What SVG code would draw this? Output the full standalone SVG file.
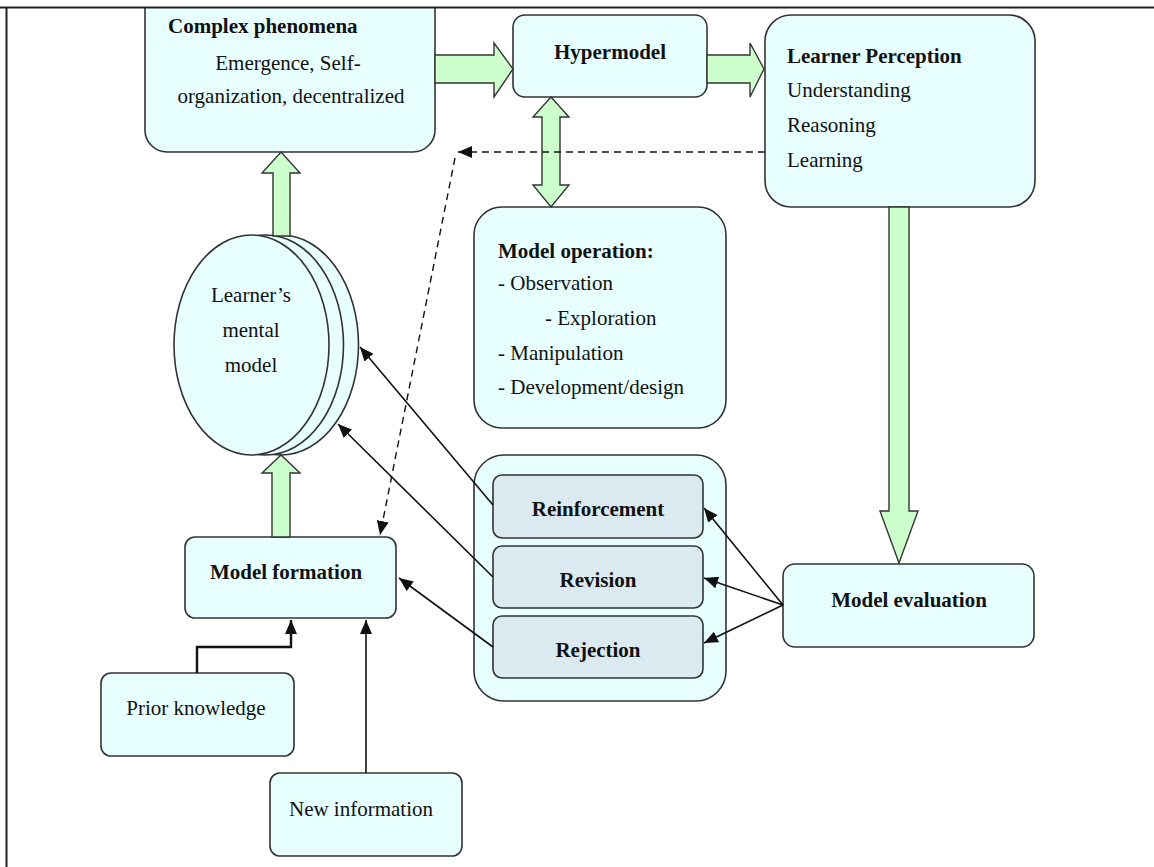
<svg xmlns="http://www.w3.org/2000/svg" width="1154" height="867" viewBox="0 0 1154 867">
<defs>
<style>
.box{fill:#e8ffff;stroke:#333;stroke-width:1.6}
.inner{fill:#dbeaf0;stroke:#333;stroke-width:1.6}
.garrow{fill:#ccffcc;stroke:#333;stroke-width:1.4;stroke-linejoin:miter}
.t{font-family:"Liberation Serif","Times New Roman",serif;font-size:21px;fill:#111}
.b{font-weight:bold}
.m{text-anchor:middle}
.ln{fill:none;stroke:#111;stroke-width:1.6}
.dash{fill:none;stroke:#111;stroke-width:1.4;stroke-dasharray:7 5}
</style>
<marker id="ahL" viewBox="0 0 14 12" refX="14" refY="6" markerWidth="14" markerHeight="12" markerUnits="userSpaceOnUse" orient="auto">
<path d="M0,0 L14,6 L0,12 z" fill="#111"/>
</marker>
</defs>
<rect width="1154" height="867" fill="#fff"/>

<g id="complex-phenomena">
<rect class="box" x="145" y="-20" width="290" height="172" rx="22"/>
<text class="t b" x="168" y="33">Complex phenomena</text>
<text class="t m" x="288" y="70">Emergence, Self-</text>
<text class="t m" x="291" y="103">organization, decentralized</text>
</g>

<g id="hypermodel">
<rect class="box" x="513" y="15" width="194" height="82" rx="12"/>
<text class="t b m" x="610" y="59">Hypermodel</text>
</g>

<g id="learner-perception">
<rect class="box" x="765" y="15" width="270" height="192" rx="26"/>
<text class="t b" x="787" y="63">Learner Perception</text>
<text class="t" x="787" y="97">Understanding</text>
<text class="t" x="787" y="132">Reasoning</text>
<text class="t" x="787" y="167">Learning</text>
</g>

<g id="model-operation">
<rect class="box" x="474" y="207" width="252" height="221" rx="28"/>
<text class="t b" x="498" y="258">Model operation:</text>
<text class="t" x="498" y="290">- Observation</text>
<text class="t" x="545" y="325">- Exploration</text>
<text class="t" x="498" y="360">- Manipulation</text>
<text class="t" x="498" y="394">- Development/design</text>
</g>

<g id="mental-model">
<ellipse class="box" cx="281" cy="345" rx="77.5" ry="110"/>
<ellipse class="box" cx="266" cy="345" rx="77.5" ry="110"/>
<ellipse class="box" cx="251.5" cy="345" rx="77.5" ry="110"/>
<text class="t m" x="251" y="302">Learner’s</text>
<text class="t m" x="251" y="337">mental</text>
<text class="t m" x="251" y="372">model</text>
</g>

<g id="model-formation">
<rect class="box" x="185" y="537" width="211" height="81" rx="10"/>
<text class="t b m" x="286" y="579">Model formation</text>
</g>

<g id="prior-knowledge">
<rect class="box" x="101" y="673" width="193" height="83" rx="10"/>
<text class="t m" x="196" y="715">Prior knowledge</text>
</g>

<g id="new-information">
<rect class="box" x="270" y="773" width="192" height="83" rx="10"/>
<text class="t m" x="361" y="816">New information</text>
</g>

<g id="evaluation-outcomes">
<rect class="box" x="474" y="455" width="252" height="246" rx="30"/>
<g id="reinforcement">
<rect class="inner" x="493" y="475" width="210" height="63" rx="9"/>
<text class="t b m" x="598" y="516">Reinforcement</text>
</g>
<g id="revision">
<rect class="inner" x="493" y="546" width="210" height="62" rx="9"/>
<text class="t b m" x="598" y="587">Revision</text>
</g>
<g id="rejection">
<rect class="inner" x="493" y="616" width="210" height="62" rx="9"/>
<text class="t b m" x="598" y="657">Rejection</text>
</g>
</g>

<g id="model-evaluation">
<rect class="box" x="783" y="564" width="251" height="83" rx="12"/>
<text class="t b m" x="909" y="607">Model evaluation</text>
</g>

<g id="connectors">
<polygon class="garrow" points="435,55 494,55 494,43 513,69 494,97 494,83 435,83"/>
<polygon class="garrow" points="707,55 750,55 750,43 764,69 750,97 750,83 707,83"/>
<polygon class="garrow" points="551,97 569,117 560,117 560,185 569,185 551,207 533,185 542,185 542,117 533,117"/>
<polygon class="garrow" points="273,236 273,173 262,173 281,152 300,173 290,173 290,236"/>
<polygon class="garrow" points="272,537 272,473 262,473 281,455 300,473 290,473 290,537"/>
<polygon class="garrow" points="889,207 909,207 909,511 918,511 899,563 880,511 889,511"/>
<line class="dash" x1="765" y1="152" x2="458" y2="152" marker-end="url(#ahL)"/>
<line class="dash" x1="455" y1="158" x2="380" y2="535" marker-end="url(#ahL)"/>
<line class="ln" x1="493" y1="505" x2="360" y2="347" marker-end="url(#ahL)"/>
<line class="ln" x1="493" y1="577" x2="338" y2="424" marker-end="url(#ahL)"/>
<line class="ln" x1="493" y1="647" x2="399" y2="578" marker-end="url(#ahL)"/>
<line class="ln" x1="783" y1="605" x2="704" y2="508" marker-end="url(#ahL)"/>
<line class="ln" x1="783" y1="605" x2="704" y2="578" marker-end="url(#ahL)"/>
<line class="ln" x1="783" y1="605" x2="704" y2="643" marker-end="url(#ahL)"/>
<polyline class="ln" points="197,673 197,647 291,647 291,620" style="stroke-width:2.4" marker-end="url(#ahL)"/>
<line class="ln" x1="366" y1="773" x2="366" y2="620" marker-end="url(#ahL)"/>
</g>

<g id="frame">
<rect x="0" y="0" width="1154" height="7" fill="#fff"/>
<line x1="0" y1="7.5" x2="1154" y2="7.5" stroke="#222" stroke-width="2"/>
<line x1="6.5" y1="7" x2="6.5" y2="867" stroke="#222" stroke-width="2"/>
</g>
</svg>
